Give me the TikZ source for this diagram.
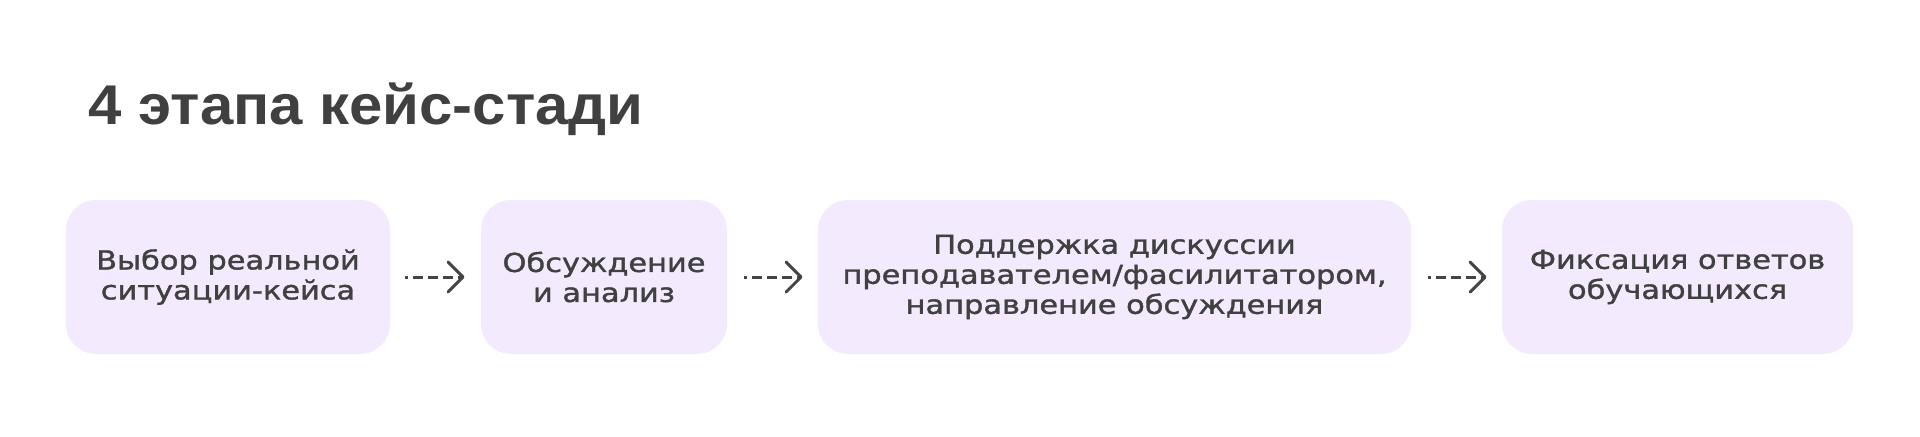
\documentclass[tikz,border=0pt]{standalone}
\usepackage{fontspec}
\usetikzlibrary{arrows.meta}
\newfontfamily\boxfnt[FakeStretch=1.17,FakeBold=1.4]{DejaVu Sans}
\newfontfamily\titlefnt[FakeStretch=1.07]{Liberation Sans}
\definecolor{boxfill}{HTML}{F3EAFD}
\definecolor{txt}{HTML}{404040}
\definecolor{arr}{HTML}{444444}
\tikzset{
  stagebox/.style={fill=boxfill, rounded corners=15pt, minimum height=77pt, inner sep=0pt,
    text=txt, align=center, font=\boxfnt\fontsize{13pt}{15pt}\selectfont},
  flow/.style={draw=arr, line width=1.5pt, dash pattern=on 5pt off 2.5pt, dash phase=3.5pt,
    -{Straight Barb[length=7.5pt,width=15pt,line width=1.5pt,round]}},
  titletext/.style={text=txt, anchor=base west, inner sep=0pt,
    font=\titlefnt\bfseries\fontsize{28pt}{30pt}\selectfont}
}
\begin{document}
\begin{tikzpicture}[x=0.5pt,y=-0.5pt]
\useasboundingbox[fill=white] (0,0) rectangle (1920,436);
\node[titletext] (title) at (88,124) {4 этапа кейс-стади};
\node[stagebox, minimum width=162pt] (b1) at (228,277) {Выбор реальной\\ситуации-кейса};
\node[stagebox, minimum width=123pt] (b2) at (604,277) {Обсуждение\\и анализ};
\node[stagebox, minimum width=296.5pt] (b3) at (1114.5,277) {Поддержка дискуссии\\преподавателем/фасилитатором,\\направление обсуждения};
\node[stagebox, minimum width=175.5pt] (b4) at (1677.5,277) {Фиксация ответов\\обучающихся};
\draw[flow] ([xshift=7.5pt]b1.east) -- ([xshift=-8pt]b2.west);
\draw[flow] ([xshift=8.5pt]b2.east) -- ([xshift=-7.5pt]b3.west);
\draw[flow] ([xshift=8.5pt]b3.east) -- ([xshift=-7.5pt]b4.west);
\end{tikzpicture}
\end{document}
